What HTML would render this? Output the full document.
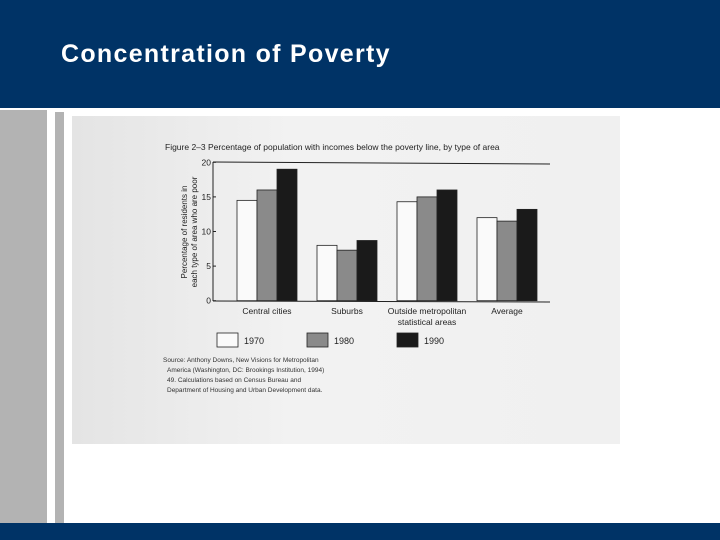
<!DOCTYPE html>
<html><head><meta charset="utf-8"><style>
body{margin:0;width:720px;height:540px;position:relative;background:#fff;overflow:hidden;font-family:"Liberation Sans",sans-serif}
div{position:absolute}
</style></head><body>
<div style="left:0;top:0;width:720px;height:108px;background:#003366"></div>
<div style="left:61px;top:40px;color:#fff;font-weight:bold;font-size:25px;letter-spacing:1.3px">Concentration of Poverty</div>
<div style="left:0;top:110px;width:47px;height:414px;background:#b3b3b3"></div>
<div style="left:55px;top:112px;width:9px;height:412px;background:#b3b3b3"></div>
<div style="left:0;top:523px;width:720px;height:17px;background:#003366"></div>
<div style="left:72px;top:116px;width:548px;height:328px;background:linear-gradient(90deg,#e4e4e4,#f2f2f2 40%,#f0f0f0)"></div>
<svg width="720" height="540" style="position:absolute;left:0;top:0" id="svg"></svg>
<script>
const categories=["Central cities","Suburbs","Outside metropolitan","Average"];
const years=["1970","1980","1990"];
const v1970=[14.5,8,14.3,12];
const v1980=[16,7.3,15,11.5];
const v1990=[19,8.7,16,13.2];
const ticks=[0,5,10,15,20];
const ns="http://www.w3.org/2000/svg";
const svg=document.getElementById('svg');
function y(v){return 300.7-v*(300.7-162.3)/20;}
function gx(i){return 237+i*80;}
const fills=["#fafafa","#8a8a8a","#1a1a1a"];
function el(t,a,txt){const e=document.createElementNS(ns,t);for(const k in a)e.setAttribute(k,a[k]);if(txt!==undefined)e.textContent=txt;svg.appendChild(e);return e;}
let e;
e=el('text',{x:165,y:150,'font-size':8.5,fill:'#222'},'Figure 2–3  Percentage of population with incomes below the poverty line, by type of area');

e=el('line',{x1:213,y1:162,x2:550,y2:164,stroke:'#222','stroke-width':1});

e=el('line',{x1:213,y1:162,x2:213,y2:301,stroke:'#222'});

e=el('line',{x1:213,y1:301,x2:550,y2:302,stroke:'#222'});

ticks.forEach(t=>{
 e=el('text',{x:211,y:y(t)+3,'font-size':8.5,'text-anchor':'end',fill:'#222'},String(t));
 
 e=el('line',{x1:213,y1:y(t),x2:216,y2:y(t),stroke:'#222'});
 
});
e=el('text',{transform:'translate(187,232) rotate(-90)','font-size':8,'text-anchor':'middle',fill:'#222'},'Percentage of residents in');

e=el('text',{transform:'translate(197,232) rotate(-90)','font-size':8,'text-anchor':'middle',fill:'#222'},'each type of area who are poor');

const series=[v1970,v1980,v1990];
categories.forEach((c,i)=>{
 series.forEach((s,j)=>{
  e=el('rect',{x:gx(i)+j*20,y:y(s[i]),width:20,height:y(0)-y(s[i]),fill:fills[j],stroke:'#222','stroke-width':0.8});
  
 });
 e=el('text',{x:gx(i)+30,y:314,'font-size':8.5,'text-anchor':'middle',fill:'#222'},c);
 
});
e=el('text',{x:gx(2)+30,y:325,'font-size':8.5,'text-anchor':'middle',fill:'#222'},'statistical areas');

const lx=[217,307,397];
years.forEach((yr,j)=>{
 e=el('rect',{x:lx[j],y:333,width:21,height:14,fill:fills[j],stroke:'#222','stroke-width':0.8});
 
 e=el('text',{x:lx[j]+27,y:344,'font-size':9,fill:'#222'},yr);
 
});
const src=["Source: Anthony Downs, New Visions for Metropolitan","America (Washington, DC: Brookings Institution, 1994)","49. Calculations based on Census Bureau and","Department of Housing and Urban Development data."];
src.forEach((s,i)=>{
 e=el('text',{x:i==0?163:167,y:362+i*10,'font-size':6.5,fill:'#333'},s);
 
});
</script>
</body></html>
